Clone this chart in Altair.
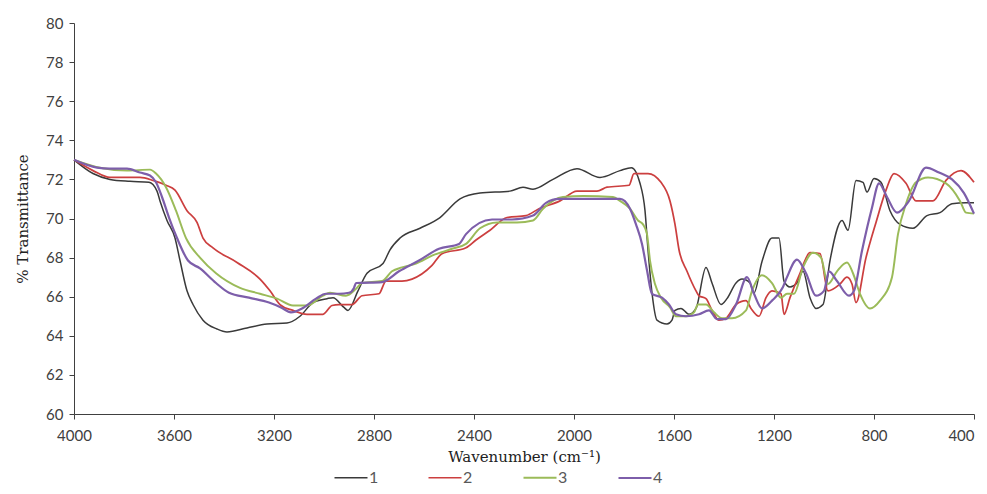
import altair as alt
import pandas as pd

series_names = ["1", "2", "3", "4"]
series_colors = ["#3a3a3a", "#cc3f3f", "#9bbb59", "#7d5eaa"]
series_widths = [1.5, 2.2, 2.2, 2.2]

wn1 = [4000, 3924, 3856, 3776, 3700, 3668, 3656, 3628, 3596, 3576, 3548, 3524, 3484, 3428, 3388, 3308,
       3228, 3148, 3096, 3044, 2988, 2964, 2920, 2904, 2864, 2828, 2764, 2736, 2696, 2616, 2536, 2456,
       2376, 2256, 2204, 2164, 2084, 1988, 1896, 1816, 1770, 1736, 1716, 1704, 1688, 1668, 1628, 1608,
       1596, 1572, 1540, 1512, 1472, 1448, 1412, 1388, 1352, 1328, 1296, 1280, 1248, 1208, 1180, 1160,
       1136, 1108, 1084, 1056, 1032, 1004, 976, 928, 904, 872, 844, 828, 800, 772, 736, 696, 644, 588,
       536, 488, 432, 400]
t1 = [73.0, 72.3, 72.0, 71.9, 71.85, 71.4, 70.9, 69.9, 69.0, 67.85, 66.3, 65.6, 64.8, 64.35, 64.2, 64.4,
      64.6, 64.65, 65.0, 65.7, 65.9, 65.95, 65.45, 65.3, 66.3, 67.2, 67.7, 68.4, 69.0, 69.5, 70.05, 71.0,
      71.3, 71.4, 71.6, 71.5, 72.0, 72.55, 72.1, 72.45, 72.6, 71.8, 70.4, 68.4, 66.2, 64.8, 64.6, 64.8,
      65.3, 65.4, 65.1, 65.4, 67.5, 66.7, 65.6, 65.9, 66.7, 66.9, 66.7, 66.2, 67.8, 69.0, 69.0, 66.8,
      66.5, 66.7, 67.3, 65.95, 65.4, 65.6, 67.85, 69.9, 69.4, 71.95, 71.85, 71.35, 72.05, 71.85, 70.4, 69.7, 69.5, 70.15,
      70.3, 70.75, 70.8, 70.8]

wn2 = [4000, 3924, 3856, 3736, 3684, 3632, 3596, 3548, 3508, 3484, 3444, 3348, 3256, 3216, 3176, 3124,
       3068, 3004, 2968, 2940, 2888, 2848, 2780, 2752, 2688, 2648, 2568, 2528, 2432, 2392, 2336, 2268,
       2192, 2140, 2056, 1988, 1908, 1868, 1780, 1760, 1704, 1652, 1616, 1596, 1580, 1548, 1512, 1500,
       1472, 1448, 1420, 1392, 1352, 1312, 1292, 1260, 1232, 1208, 1172, 1160, 1136, 1096, 1056, 1016,
       984, 936, 908, 888, 872, 832, 792, 752, 720, 672, 632, 564, 512, 452, 400]
t2 = [73.0, 72.45, 72.1, 72.1, 71.95, 71.7, 71.45, 70.4, 69.8, 69.0, 68.5, 67.75, 66.9, 66.3, 65.6, 65.3,
      65.1, 65.1, 65.55, 65.6, 65.6, 66.05, 66.15, 66.8, 66.8, 66.9, 67.6, 68.2, 68.5, 68.9, 69.4, 70.05,
      70.15, 70.5, 70.9, 71.4, 71.4, 71.6, 71.7, 72.3, 72.3, 71.85, 70.9, 69.7, 68.4, 67.3, 66.3, 66.05,
      65.9, 65.3, 64.8, 64.9, 65.6, 65.8, 65.4, 65.0, 65.95, 66.3, 66.15, 65.1, 65.95, 67.2, 68.25, 68.2,
      66.3, 66.65, 67.0, 66.65, 65.7, 68.0, 69.8, 71.45, 72.3, 71.8, 70.9, 70.9, 71.95, 72.45, 71.85]

wn3 = [4000, 3896, 3788, 3696, 3672, 3632, 3592, 3552, 3496, 3432, 3336, 3256, 3188, 3124, 3068, 3004,
       2976, 2912, 2872, 2848, 2768, 2728, 2688, 2632, 2568, 2488, 2432, 2376, 2308, 2228, 2164, 2124,
       2044, 1964, 1844, 1816, 1776, 1744, 1724, 1708, 1696, 1676, 1652, 1616, 1592, 1552, 1520, 1504,
       1472, 1440, 1408, 1368, 1312, 1288, 1248, 1208, 1172, 1148, 1120, 1084, 1044, 1012, 984, 948,
       908, 884, 856, 816, 776, 728, 704, 672, 632, 584, 512, 456, 432, 400]
t3 = [73.0, 72.6, 72.45, 72.5, 72.3, 71.6, 70.4, 69.0, 68.0, 67.2, 66.45, 66.15, 65.9, 65.55, 65.55, 66.05,
      66.2, 66.05, 66.4, 66.7, 66.8, 67.3, 67.5, 67.7, 68.1, 68.45, 68.7, 69.5, 69.8, 69.8, 69.9, 70.5,
      71.1, 71.15, 71.1, 70.9, 70.5, 69.9, 69.7, 69.2, 67.85, 66.65, 65.95, 65.45, 65.0, 65.0, 65.2, 65.6,
      65.6, 65.2, 64.9, 64.9, 65.3, 66.3, 67.1, 66.7, 65.95, 66.15, 66.15, 67.5, 68.25, 68.0, 66.65, 67.3,
      67.75, 67.2, 66.15, 65.4, 65.8, 67.0, 69.2, 70.75, 71.85, 72.1, 71.8, 70.9, 70.3, 70.25]

wn4 = [4000, 3908, 3856, 3788, 3736, 3696, 3672, 3648, 3620, 3588, 3544, 3496, 3432, 3380, 3300, 3220,
       3172, 3132, 3088, 3032, 2992, 2940, 2900, 2880, 2872, 2768, 2700, 2620, 2540, 2460, 2432, 2328,
       2248, 2164, 2112, 2060, 1888, 1816, 1776, 1752, 1728, 1708, 1688, 1648, 1620, 1592, 1552, 1500,
       1460, 1428, 1392, 1352, 1308, 1280, 1248, 1208, 1164, 1148, 1108, 1072, 1032, 1000, 980, 948,
       900, 880, 848, 808, 780, 748, 708, 660, 592, 540, 488, 440, 400]
t4 = [73.0, 72.6, 72.55, 72.55, 72.35, 72.2, 71.85, 71.1, 70.05, 69.0, 67.85, 67.45, 66.7, 66.2, 65.95, 65.7,
      65.45, 65.2, 65.4, 65.9, 66.15, 66.15, 66.2, 66.45, 66.7, 66.75, 67.3, 67.85, 68.45, 68.7, 69.2, 69.95,
      69.95, 70.15, 70.8, 71.0, 71.0, 71.0, 70.5, 69.7, 68.7, 67.35, 66.15, 65.95, 65.6, 65.1, 65.0, 65.1,
      65.3, 64.85, 64.85, 65.6, 67.0, 66.15, 65.4, 65.8, 66.5, 67.0, 67.9, 67.2, 66.05, 66.3, 67.3, 66.8,
      66.05, 66.3, 68.35, 70.55, 71.8, 71.1, 70.3, 70.9, 72.6, 72.35, 72.0, 71.3, 70.25]

x_ticks = [4000, 3600, 3200, 2800, 2400, 2000, 1600, 1200, 800, 400]
y_ticks = [60, 62, 64, 66, 68, 70, 72, 74, 76, 78, 80]

frames = []
for name, wn, tv in zip(series_names, [wn1, wn2, wn3, wn4], [t1, t2, t3, t4]):
    frames.append(pd.DataFrame({"wavenumber": wn, "transmittance": tv, "series": name}))
df = pd.concat(frames, ignore_index=True)

label_font = "Lato"
title_font = "DejaVu Serif"

chart = alt.Chart(df).mark_line(interpolate="monotone").encode(
    x=alt.X("wavenumber:Q",
            scale=alt.Scale(domain=[4000, 400], nice=False, zero=False),
            axis=alt.Axis(values=x_ticks, format="d", title="Wavenumber (cm\u207b\u00b9)", grid=False,
                          tickSize=5, labelPadding=9, titlePadding=6,
                          labelFont=label_font, labelFontSize=15, labelColor="#404040",
                          labelAlign={"condition": {"test": "datum.value == 400", "value": "right"},
                                      "value": "center"},
                          titleFont=title_font, titleFontSize=15, titleFontWeight="normal",
                          titleColor="#222222", domainColor="#404040", tickColor="#404040",
                          labelFlush=False)),
    y=alt.Y("transmittance:Q",
            scale=alt.Scale(domain=[60, 80], nice=False, zero=False),
            axis=alt.Axis(values=y_ticks, format="d", title="% Transmittance", grid=False,
                          tickSize=5, labelPadding=6, titlePadding=15,
                          labelFont=label_font, labelFontSize=15, labelColor="#404040",
                          titleFont=title_font, titleFontSize=15, titleFontWeight="normal",
                          titleColor="#222222", domainColor="#404040", tickColor="#404040")),
    color=alt.Color("series:N",
                    scale=alt.Scale(domain=series_names, range=series_colors),
                    legend=alt.Legend(orient="none", legendX=259, legendY=437,
                                      direction="horizontal", columns=4, title=None,
                                      symbolType="stroke", symbolSize=1089, symbolStrokeWidth=2.5,
                                      labelOffset=0, columnPadding=46, padding=0,
                                      labelFont=label_font, labelFontSize=16, labelColor="#595959")),
    strokeWidth=alt.StrokeWidth("series:N",
                                scale=alt.Scale(domain=series_names, range=series_widths),
                                legend=None),
).properties(
    width=900, height=391,
    autosize=alt.AutoSizeParams(type="none"),
    padding={"left": 66, "top": 15, "right": 5, "bottom": 72},
).configure_view(stroke=None)

chart.save("out.html", embed_options={"renderer": "svg", "actions": False})
